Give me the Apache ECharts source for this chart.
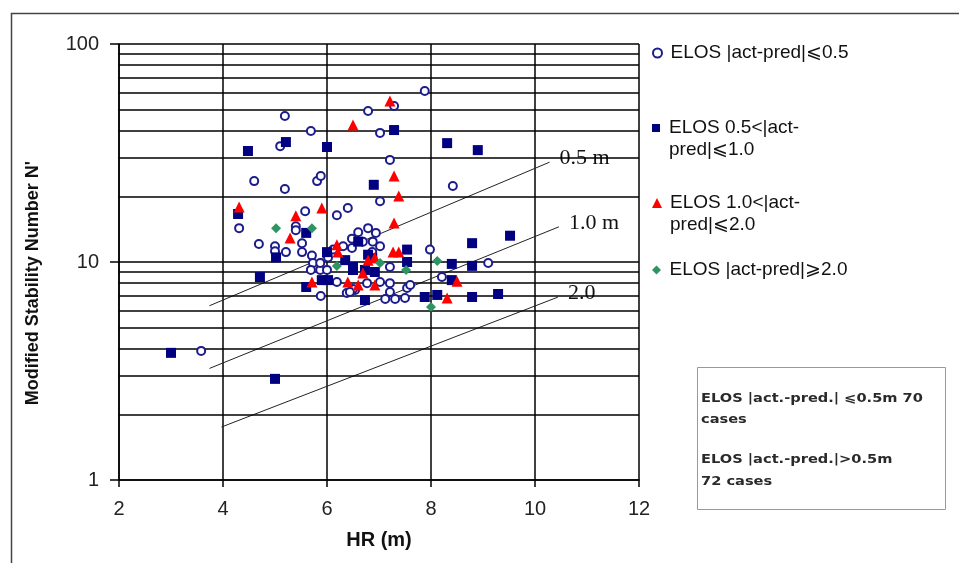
<!DOCTYPE html>
<html>
<head>
<meta charset="utf-8">
<script src="https://cdn.jsdelivr.net/npm/echarts@6/dist/echarts.min.js"></script>
<style>
html,body{margin:0;padding:0;background:#fff;}
#chart{width:959px;height:563px;}
</style>
</head>
<body>
<div id="chart"></div>
<script>
// ---- data (HR in m, N') ----
const seriesNames = ['ELOS |act-pred|⩽0.5', 'ELOS 0.5<|act-\npred|⩽1.0', 'ELOS 1.0<|act-\npred|⩽2.0', 'ELOS |act-pred|⩾2.0'];

const elosLe05 = [
  [7.88,60.9],[7.29,52.0],[6.79,49.3],[5.19,46.7],[5.69,39.9],[7.02,39.1],[5.10,34.0],[7.21,29.4],
  [4.60,23.5],[5.81,23.5],[5.88,24.8],[5.19,21.6],[8.42,22.3],[7.02,19.0],[6.40,17.7],[6.19,16.4],
  [5.58,17.1],[4.31,14.3],[5.40,14.6],[5.40,14.0],
  [4.69,12.1],[5.00,11.8],[5.00,11.2],[5.21,11.1],[5.52,12.2],[5.52,11.1],[5.71,10.7],[5.73,9.9],
  [5.69,9.2],[5.87,9.2],[6.00,9.2],[5.88,6.98],[6.19,8.09],[6.38,7.21],[6.54,7.44],
  [6.60,13.7],[6.79,14.3],[6.94,13.6],[6.48,12.8],[6.69,12.4],[6.88,12.4],[7.02,11.8],[6.31,11.8],
  [6.12,11.4],[6.48,11.6],[6.87,11.1],
  [7.21,9.49],[7.98,11.4],[9.10,9.9],[8.21,8.53],[7.02,8.09],[7.21,8.0],[7.21,7.28],[7.12,6.77],
  [7.31,6.77],[7.50,6.84],[7.54,7.60],[7.60,7.84],[6.50,7.52],[6.77,8.0],
  [3.58,3.91],[5.87,9.9],[6.02,10.5],[6.44,7.28]
];
const elos05to10 = [
  [3.00,3.83],[5.00,2.91],[4.48,32.3],[5.21,35.5],[6.00,33.7],[7.29,40.3],[8.31,35.1],[8.90,32.6],
  [6.90,22.6],[4.29,16.6],[5.60,13.6],[5.02,10.5],[4.71,8.53],[5.60,7.68],[5.90,8.26],[6.02,8.26],
  [6.00,11.1],[6.35,10.2],[6.50,9.49],[6.50,9.19],[6.60,12.4],[6.79,10.8],[6.87,10.4],[6.73,9.19],
  [6.92,9.0],[6.73,6.69],[7.54,11.4],[7.54,10.0],[7.88,6.91],[8.12,7.06],[8.40,9.8],[8.79,12.2],
  [8.79,9.6],[8.40,8.26],[8.79,6.91],[9.29,7.13],[9.52,13.2]
];
const elos10to20 = [
  [7.21,54.8],[6.50,42.5],[7.29,24.8],[7.38,20.1],[7.29,15.1],[4.31,17.9],[5.40,16.3],[5.90,17.7],
  [5.29,12.9],[6.19,12.0],[6.21,11.1],[7.27,11.1],[7.38,11.1],[6.79,10.2],[6.92,10.5],[6.69,8.91],
  [5.71,8.09],[6.40,8.09],[6.60,7.84],[6.92,7.84],[8.50,8.16],[8.31,6.84]
];
const elosGe20 = [
  [5.02,14.3],[5.71,14.3],[6.19,9.59],[7.02,9.9],[7.52,9.19],[8.12,10.1],[8.00,6.22]
];

// design lines (end points) and their labels
const line05 = [[3.74,6.30],[10.28,28.7]];
const line10 = [[3.74,3.25],[10.46,14.5]];
const line20 = [[3.97,1.75],[10.44,6.9]];
const lineLabels = ['0.5 m', '1.0 m', '2.0'];

// axis settings
const xMin = 2, xMax = 12, xStep = 2;
const yMin = 1, yMax = 100;
const minorGrid = [2,3,4,5,6,7,8,9,20,30,40,50,60,70,80,90];

const boxLines = ['ELOS |act.-pred.| ⩽0.5m 70', 'cases', 'ELOS |act.-pred.|>0.5m', '72 cases'];

// ---- chart ----
const chart = echarts.init(document.getElementById('chart'), null, {renderer:'canvas'});
const FONT = '"Liberation Sans", Arial, sans-serif';
const black = '#000';

function legendItem(name, icon, top, ih) {
  return {data:[{name:name, icon:icon}], left:652, top:top, orient:'vertical', padding:0,
          itemWidth:16, itemHeight:ih, itemGap:0, selectedMode:false, symbolKeepAspect:true,
          textStyle:{fontSize:19, color:'#111', fontFamily:FONT, lineHeight:22}};
}

const endLabel = (txt) => ({show:true, formatter:txt, fontFamily:'"Liberation Serif", "Times New Roman", serif',
  fontSize:22, color:'#111', distance:10, offset:[0,-4]});

const refLine = (data, label) => ({
  type:'line', data:data, symbol:'none', silent:true, z:4,
  lineStyle:{color:'#222', width:1}, endLabel:endLabel(label), animation:false
});

const boxFont = 'bold 11.5px "DejaVu Sans"';
const option = {
  animation:false,
  textStyle:{fontFamily:FONT},
  grid:{left:119, right:320, top:44, bottom:83, containLabel:false},
  legend:[
    legendItem(seriesNames[0], 'emptyCircle', 42, 9),
    // icons for two-line items carry an extra move-to point so the mark sits beside the first line
    legendItem(seriesNames[1], 'path://M0,0H10V10H0Z M5,37.5', 117, 30),
    legendItem(seriesNames[2], 'path://M5,0L10,10L0,10Z M5,32', 192, 32),
    legendItem(seriesNames[3], 'path://M5,0L10,5L5,10L0,5Z', 259, 9)
  ],
  xAxis:{
    type:'value', min:xMin, max:xMax, interval:xStep,
    axisLine:{show:true, lineStyle:{color:black, width:1.5}},
    axisTick:{show:true, length:7, lineStyle:{color:black, width:1.5}},
    axisLabel:{fontSize:20, color:'#222', margin:19, fontFamily:FONT},
    splitLine:{show:true, lineStyle:{color:black, width:1.5}},
    name:'HR (m)', nameLocation:'middle', nameGap:50,
    nameTextStyle:{fontWeight:'bold', fontSize:20, color:'#111', fontFamily:FONT}
  },
  yAxis:{
    type:'log', logBase:10, min:yMin, max:yMax,
    axisLine:{show:true, lineStyle:{color:black, width:1.5}},
    axisTick:{show:true, length:9, lineStyle:{color:black, width:1.5}},
    axisLabel:{fontSize:20, color:'#222', margin:20, fontFamily:FONT},
    splitLine:{show:true, lineStyle:{color:black, width:1.5}},
    minorTick:{show:false}, minorSplitLine:{show:false},
    name:"Modified Stability Number N'", nameLocation:'middle', nameGap:77, nameRotate:90,
    nameTextStyle:{fontWeight:'bold', fontSize:18, color:'#111', fontFamily:FONT, padding:[0,42,0,0]}
  },
  series:[
    {
      name:'minor-grid', type:'line', data:[], silent:true, z:1,
      markLine:{silent:true, symbol:['none','none'], label:{show:false}, animation:false,
        lineStyle:{color:black, width:1.5, type:'solid'},
        emphasis:{disabled:true},
        data:minorGrid.map(v => ({yAxis:v}))}
    },
    refLine(line05, lineLabels[0]),
    refLine(line10, lineLabels[1]),
    refLine(line20, lineLabels[2]),
    {
      name:seriesNames[0], type:'scatter', data:elosLe05, symbol:'emptyCircle', symbolSize:8, z:5,
      itemStyle:{color:'#1c1c8c', borderColor:'#1c1c8c', borderWidth:1.6, opacity:1}
    },
    {
      name:seriesNames[1], type:'scatter', data:elos05to10, symbol:'rect', symbolSize:10, z:5,
      itemStyle:{color:'#000080', opacity:1}
    },
    {
      name:seriesNames[2], type:'scatter', data:elos10to20, symbol:'triangle', symbolSize:11, z:6,
      itemStyle:{color:'#ff0000', opacity:1}
    },
    {
      name:seriesNames[3], type:'scatter', data:elosGe20, symbol:'diamond', symbolSize:10, z:6,
      itemStyle:{color:'#2f9462', opacity:1}
    }
  ],
  graphic:[
    {type:'rect', left:9, top:11, shape:{width:1000, height:600}, silent:true, z:-10,
     style:{fill:'none', stroke:'#444', lineWidth:1.5}},
    {type:'rect', left:697, top:367, shape:{width:248, height:142}, silent:true,
     style:{fill:'#fff', stroke:'#999', lineWidth:1}},
    {type:'text', x:701, y:399, scaleX:1.27, silent:true,
     style:{text:boxLines[0], font:boxFont, fill:'#2a2a2a', verticalAlign:'middle'}},
    {type:'text', x:701, y:420, scaleX:1.27, silent:true,
     style:{text:boxLines[1], font:boxFont, fill:'#2a2a2a', verticalAlign:'middle'}},
    {type:'text', x:701, y:460, scaleX:1.27, silent:true,
     style:{text:boxLines[2], font:boxFont, fill:'#2a2a2a', verticalAlign:'middle'}},
    {type:'text', x:701, y:482, scaleX:1.27, silent:true,
     style:{text:boxLines[3], font:boxFont, fill:'#2a2a2a', verticalAlign:'middle'}}
  ]
};
chart.setOption(option);
</script>
</body>
</html>
